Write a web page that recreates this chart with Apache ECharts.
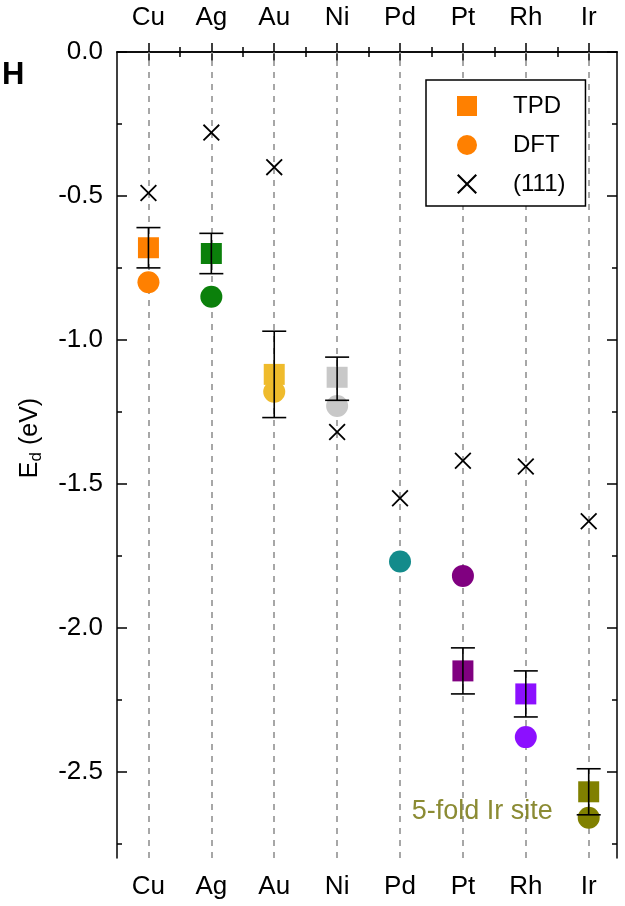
<!DOCTYPE html>
<html>
<head>
<meta charset="utf-8">
<script src="https://cdn.jsdelivr.net/npm/echarts@6/dist/echarts.min.js"></script>
<style>
  html, body { margin: 0; padding: 0; background: #fff; }
  #chart { width: 625px; height: 906px; }
</style>
</head>
<body>
<div id="chart"></div>
<script>
// metals, in plot order
const metals = ['Cu', 'Ag', 'Au', 'Ni', 'Pd', 'Pt', 'Rh', 'Ir'];
const metalColors = ['#ff8000', '#0b800b', '#efbb2c', '#c8c8c8', '#138b8b', '#800080', '#8c10ff', '#808000'];

// desorption energies (eV)
const tpd = [-0.68, -0.70, -1.12, -1.13, null, -2.15, -2.23, -2.57];
const tpdHigh = [-0.61, -0.63, -0.97, -1.06, null, -2.07, -2.15, -2.49];
const tpdLow = [-0.75, -0.77, -1.27, -1.21, null, -2.23, -2.31, -2.65];
const dft = [-0.80, -0.85, -1.18, -1.23, -1.77, -1.82, -2.38, -2.66];
const fcc111 = [-0.49, -0.28, -0.40, -1.32, -1.55, -1.42, -1.44, -1.63];

const yMajor = [0, -0.5, -1.0, -1.5, -2.0, -2.5];
const yMinor = [-0.25, -0.75, -1.25, -1.75, -2.25, -2.75];
const xMajor = metals.map((m, i) => i + 1);
const xMinor = metals.slice(1).map((m, i) => i + 1.5);

const FONT = '"Liberation Sans", Arial, sans-serif';
const crossPath = 'path://M0,1.2L1.2,0L8,6.8L14.8,0L16,1.2L9.2,8L16,14.8L14.8,16L8,9.2L1.2,16L0,14.8L6.8,8Z';

const toPoints = (vals) => vals
  .map((v, i) => v === null ? null : {
    value: [i + 1, v],
    itemStyle: {color: metalColors[i]},
  })
  .filter(d => d !== null);

const xAxisBase = (position, ticks, len, withLabels) => ({
  type: 'value',
  position: position,
  min: 0.5,
  max: 8.45,
  axisLine: {show: withLabels, lineStyle: {color: '#000', width: 1.5}},
  axisTick: {show: true, inside: true, length: len, customValues: ticks, lineStyle: {color: '#000', width: 1.5}},
  axisLabel: {
    show: withLabels,
    customValues: xMajor,
    margin: position === 'top' ? 21 : 16,
    fontFamily: FONT,
    fontSize: 26,
    color: '#000',
    formatter: (v) => metals[Math.round(v) - 1] || '',
  },
  splitLine: {show: false},
});

const yAxisBase = (position, ticks, len, withLabels) => ({
  type: 'value',
  position: position,
  min: -2.8,
  max: 0,
  name: withLabels && position === 'left' ? '{e|E}{d|d}{u| (eV)}' : '',
  nameLocation: 'middle',
  nameGap: 72,
  nameTextStyle: {
    padding: [0, 0, 0, 34],
    rich: {
      e: {fontFamily: FONT, fontSize: 25, color: '#000'},
      d: {fontFamily: FONT, fontSize: 17, color: '#000', padding: [12, 0, 0, 0]},
      u: {fontFamily: FONT, fontSize: 25, color: '#000'},
    },
  },
  axisLine: {show: withLabels, lineStyle: {color: '#000', width: 1.5}},
  axisTick: {show: true, inside: true, length: len, customValues: ticks, lineStyle: {color: '#000', width: 1.5}},
  axisLabel: {
    show: withLabels && position === 'left',
    customValues: yMajor,
    margin: 14,
    fontFamily: FONT,
    fontSize: 26,
    color: '#000',
    formatter: (v) => v.toFixed(1),
  },
  splitLine: {show: false},
});

const chart = echarts.init(document.getElementById('chart'));

const option = {
  animation: false,
  backgroundColor: '#fff',
  title: {
    text: 'H',
    left: 2,
    top: 60,
    padding: 0,
    textStyle: {fontFamily: FONT, fontSize: 31, fontWeight: 'bold', color: '#000'},
  },
  grid: {left: 117, right: 8, top: 52, bottom: 48, outerBoundsMode: 'none'},
  legend: {
    orient: 'vertical',
    left: 426,
    top: 80,
    data: ['TPD', 'DFT', '(111)'],
    itemWidth: 20,
    itemHeight: 20,
    itemGap: 15,
    padding: [14, 20, 10, 31],
    borderColor: '#000',
    borderWidth: 1.5,
    backgroundColor: '#fff',
    selectedMode: false,
    textStyle: {fontFamily: FONT, fontSize: 24, lineHeight: 20, color: '#000', padding: [0, 0, 0, 31]},
  },
  xAxis: [
    xAxisBase('bottom', xMajor, 9, true),
    xAxisBase('bottom', xMinor, 5, false),
    xAxisBase('top', xMajor, 9, true),
    xAxisBase('top', xMinor, 5, false),
  ],
  yAxis: [
    yAxisBase('left', yMajor, 10, true),
    yAxisBase('left', yMinor, 5, false),
    yAxisBase('right', yMajor, 10, true),
    yAxisBase('right', yMinor, 5, false),
  ],
  series: [
    {
      // dashed guide lines at each metal
      type: 'line',
      data: [],
      silent: true,
      z: 1,
      markLine: {
        symbol: 'none',
        silent: true,
        z: 1,
        label: {show: false},
        lineStyle: {color: '#8a8a8a', type: [6, 6], width: 1.5},
        data: xMajor.map(x => ({xAxis: x})),
      },
    },
    {
      name: '(111)',
      type: 'scatter',
      symbol: crossPath,
      symbolSize: 17,
      itemStyle: {color: '#000', opacity: 1},
      data: fcc111.map((v, i) => [i + 1, v]),
      z: 3,
    },
    {
      name: 'DFT',
      type: 'scatter',
      symbol: 'circle',
      symbolSize: 22,
      itemStyle: {color: '#ff8000', opacity: 1},
      data: toPoints(dft),
      z: 3,
    },
    {
      name: 'TPD',
      type: 'scatter',
      symbol: 'rect',
      symbolSize: 21,
      itemStyle: {color: '#ff8000', opacity: 1},
      data: toPoints(tpd),
      z: 4,
    },
    {
      type: 'custom',
      z: 5,
      data: tpd.map((v, i) => [i + 1, tpdLow[i], tpdHigh[i]]).filter(d => d[1] !== null),
      renderItem: (params, api) => {
        const lo = api.coord([api.value(0), api.value(1)]);
        const hi = api.coord([api.value(0), api.value(2)]);
        const half = 12;
        const style = {stroke: '#000', lineWidth: 1.6};
        return {
          type: 'group',
          children: [
            {type: 'line', shape: {x1: lo[0], y1: lo[1], x2: hi[0], y2: hi[1]}, style},
            {type: 'line', shape: {x1: lo[0] - half, y1: lo[1], x2: lo[0] + half, y2: lo[1]}, style},
            {type: 'line', shape: {x1: hi[0] - half, y1: hi[1], x2: hi[0] + half, y2: hi[1]}, style},
          ],
        };
      },
    },
    {
      // annotation next to the Ir point
      type: 'scatter',
      symbolSize: 0,
      silent: true,
      data: [[8, -2.64]],
      label: {
        show: true,
        position: 'left',
        distance: 36,
        formatter: '5-fold Ir site',
        fontFamily: FONT,
        fontSize: 27,
        color: '#6e6e00',
      },
    },
  ],
};

chart.setOption(option);
</script>
</body>
</html>
